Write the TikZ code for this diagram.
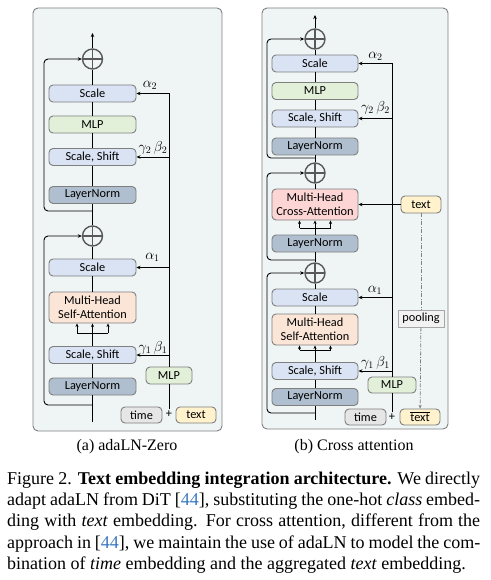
\documentclass[tikz,border=0pt]{standalone}
\usepackage{fontspec}
\setmainfont{Liberation Serif}
\newfontfamily\boxfont{Carlito}
\usetikzlibrary{arrows.meta}
\definecolor{panelfill}{HTML}{EFF4F4}
\definecolor{panelline}{HTML}{7F7F7F}
\definecolor{boxline}{HTML}{7F7F7F}
\definecolor{cblue}{HTML}{DAE3F3}
\definecolor{cgreen}{HTML}{E2F0D9}
\definecolor{cln}{HTML}{B0BFCF}
\definecolor{cpeach}{HTML}{FBE5D6}
\definecolor{cpink}{HTML}{FDD5D5}
\definecolor{cgray}{HTML}{E7E6E6}
\definecolor{cyellow}{HTML}{FFF2CC}
\definecolor{cpool}{HTML}{F2F2F2}
\definecolor{poolline}{HTML}{A6A6A6}
\definecolor{ringgray}{HTML}{595959}
\definecolor{citeblue}{HTML}{3A78C0}
\begin{document}
\begin{tikzpicture}[x=1pt,y=-1pt,
  panel/.style={draw=panelline, fill=panelfill, line width=0.9pt, rounded corners=5pt},
  blk/.style={draw=boxline, line width=0.9pt, rounded corners=4pt, minimum width=87pt,
    minimum height=17pt, inner sep=0pt, align=center,
    font=\boxfont\fontsize{12.3}{13.5}\selectfont},
  blktwo/.style={blk, minimum height=31pt},
  sblk/.style={blk, minimum width=40pt, minimum height=16pt},
  poolbox/.style={draw=poolline, line width=0.9pt, fill=cpool, minimum width=46pt,
    minimum height=17pt, inner sep=0pt, font=\boxfont\fontsize{12.3}{13.5}\selectfont},
  oplus/.style={circle, draw=ringgray, line width=1.4pt, minimum size=20pt, inner sep=0pt,
    path picture={\draw[ringgray, line width=1.2pt]
      (path picture bounding box.north) -- (path picture bounding box.south)
      (path picture bounding box.west) -- (path picture bounding box.east);}},
  plusnode/.style={inner sep=1pt, font=\boxfont\fontsize{12.3}{13.5}\selectfont},
  ln/.style={line width=0.9pt, black},
  arr/.style={ln, -{Stealth[length=4pt,width=3.5pt]}},
  sarr/.style={ln, -{Stealth[length=3.5pt,width=3pt]}},
  dd/.style={line width=0.8pt, gray, dash pattern=on 4pt off 1.5pt on 1pt off 1.5pt},
  lab/.style={inner sep=0pt, font=\fontsize{14.5}{15}\selectfont},
  subcap/.style={inner sep=0pt, anchor=base, font=\fontsize{16}{19}\selectfont},
  capline/.style={inner sep=0pt, anchor=base west, font=\fontsize{18}{21}\selectfont}
]
\useasboundingbox (0,0) rectangle (490,580);

% panels
\draw[panel] (33,8) rectangle (222,431);
\draw[panel] (262,8) rectangle (448,429);

% ---------------- left: adaLN-Zero ----------------
\node[oplus] (Lp2) at (92.5,59) {};
\node[blk, fill=cblue] (Lsc2) at (92.5,93.5) {Scale};
\node[blk, fill=cgreen] (Lmlp2) at (92.5,124.5) {MLP};
\node[blk, fill=cblue] (Lss2) at (92.5,157) {Scale, Shift};
\node[blk, fill=cln] (Lln2) at (92.5,195) {LayerNorm};
\node[oplus] (Lp1) at (92.5,236) {};
\node[blk, fill=cblue] (Lsc1) at (92.5,267.5) {Scale};
\node[blktwo, fill=cpeach] (Lsa) at (92.5,307.5) {Multi-Head\\Self-Attention};
\node[blk, fill=cblue] (Lss1) at (92.5,355) {Scale, Shift};
\node[blk, fill=cln] (Lln1) at (92.5,386.5) {LayerNorm};
\node[sblk, fill=cgreen, minimum width=46pt, minimum height=17pt] (Lmlp) at (169,375.5) {MLP};
\node[sblk, fill=cgray, minimum width=41pt] (Ltime) at (141.5,415) {time};
\node[plusnode] (Lplus) at (169,414) {+};
\node[sblk, fill=cyellow] (Ltext) at (196,415) {text};

\coordinate (Ltop) at (92.5,33);
\coordinate (Lbot) at (92.5,422);
\coordinate (Lk2) at (92.5,211);
\coordinate (Lk1) at (92.5,405);
\coordinate (Lbr) at (92.5,333);
\coordinate (Lbl) at (77,333);
\coordinate (Lbrr) at (108,333);

\draw[ln] (Lbot) -- (Lln1);
\draw[ln] (Lln1) -- (Lss1);
\draw[ln] (Lss1) -- (Lbr);
\draw[sarr] (Lbr) -- (Lsa);
\draw[ln] (Lbl) -- (Lbrr);
\draw[sarr] (Lbl) -- (Lbl |- Lsa.south);
\draw[sarr] (Lbrr) -- (Lbrr |- Lsa.south);
\draw[ln] (Lsa) -- (Lsc1);
\draw[ln] (Lsc1) -- (Lp1);
\draw[ln] (Lp1) -- (Lln2);
\draw[ln] (Lln2) -- (Lss2);
\draw[ln] (Lss2) -- (Lmlp2);
\draw[ln] (Lmlp2) -- (Lsc2);
\draw[ln] (Lsc2) -- (Lp2);
\draw[arr] (Lp2) -- (Ltop);
\draw[arr, rounded corners=4pt] (Lk2) -- ++(-48.5,0) |- (Lp2.west);
\draw[arr, rounded corners=4pt] (Lk1) -- ++(-48.5,0) |- (Lp1.west);

\draw[arr] (Lmlp.north) -- (Lmlp.north |- Lsc2.east) -- (Lsc2.east);
\draw[arr] (Lmlp.north |- Lss2.east) -- (Lss2.east);
\draw[arr] (Lmlp.north |- Lsc1.east) -- (Lsc1.east);
\draw[arr] (Lmlp.north |- Lss1.east) -- (Lss1.east);
\draw[ln] (Lplus) -- (Lmlp);

\node[lab] (La2) at (150,85.5) {$\alpha_2$};
\node[lab] (Lgb2) at (153,148) {$\gamma_2\,\beta_2$};
\node[lab] (La1) at (152.5,257) {$\alpha_1$};
\node[lab] (Lgb1) at (153,348) {$\gamma_1\,\beta_1$};

% ---------------- right: cross attention ----------------
\node[oplus] (Rp1) at (315,39) {};
\node[blk, fill=cblue, minimum width=86pt] (Rsc2) at (315,63.5) {Scale};
\node[blk, fill=cgreen, minimum width=86pt] (Rmlp2) at (315,91) {MLP};
\node[blk, fill=cblue, minimum width=86pt] (Rss2) at (315,118.5) {Scale, Shift};
\node[blk, fill=cln, minimum width=86pt] (Rln3) at (315,146.5) {LayerNorm};
\node[oplus] (Rp2) at (315,173) {};
\node[blktwo, fill=cpink, minimum width=86pt] (Rca) at (315,204.5) {Multi-Head\\Cross-Attention};
\node[blk, fill=cln, minimum width=86pt] (Rln2) at (315,243.5) {LayerNorm};
\node[oplus] (Rp3) at (315,273) {};
\node[blk, fill=cblue, minimum width=86pt] (Rsc1) at (315,297.5) {Scale};
\node[blktwo, fill=cpeach, minimum width=86pt] (Rsa) at (315,329.5) {Multi-Head\\Self-Attention};
\node[blk, fill=cblue, minimum width=86pt] (Rss1) at (315,371) {Scale, Shift};
\node[blk, fill=cln, minimum width=86pt] (Rln1) at (315,397) {LayerNorm};

\node[sblk, fill=cyellow, minimum height=17pt] (Rtext) at (421,204.5) {text};
\node[poolbox] (Rpool) at (421,318.5) {pooling};
\node[sblk, fill=cgreen, minimum width=48pt] (Rmlp) at (392,385) {MLP};
\node[sblk, fill=cgray, minimum width=41pt] (Rtime) at (365.5,417) {time};
\node[plusnode] (Rplus) at (392,417) {+};
\node[sblk, fill=cyellow] (Rtbar) at (420,417) {$\overline{\hbox{text}}$};

\coordinate (Rtop) at (315,15);
\coordinate (Rbot) at (315,420);
\coordinate (Rk1) at (315,158);
\coordinate (Rk2) at (315,260);
\coordinate (Rk3) at (315,413);
\coordinate (Rbr2) at (315,228);
\coordinate (Rbr2l) at (299.5,228);
\coordinate (Rbr2r) at (330.5,228);
\coordinate (Rbr1) at (315,350);
\coordinate (Rbr1l) at (299.5,350);
\coordinate (Rbr1r) at (330.5,350);

\draw[ln] (Rbot) -- (Rln1);
\draw[ln] (Rln1) -- (Rss1);
\draw[ln] (Rss1) -- (Rbr1);
\draw[sarr] (Rbr1) -- (Rsa);
\draw[ln] (Rbr1l) -- (Rbr1r);
\draw[sarr] (Rbr1l) -- (Rbr1l |- Rsa.south);
\draw[sarr] (Rbr1r) -- (Rbr1r |- Rsa.south);
\draw[ln] (Rsa) -- (Rsc1);
\draw[ln] (Rsc1) -- (Rp3);
\draw[ln] (Rp3) -- (Rln2);
\draw[ln] (Rln2) -- (Rbr2);
\draw[sarr] (Rbr2) -- (Rca);
\draw[ln] (Rbr2l) -- (Rbr2r);
\draw[sarr] (Rbr2l) -- (Rbr2l |- Rca.south);
\draw[sarr] (Rbr2r) -- (Rbr2r |- Rca.south);
\draw[ln] (Rca) -- (Rp2);
\draw[ln] (Rp2) -- (Rln3);
\draw[ln] (Rln3) -- (Rss2);
\draw[ln] (Rss2) -- (Rmlp2);
\draw[ln] (Rmlp2) -- (Rsc2);
\draw[ln] (Rsc2) -- (Rp1);
\draw[arr] (Rp1) -- (Rtop);
\draw[arr, rounded corners=4pt] (Rk1) -- ++(-48,0) |- (Rp1.west);
\draw[arr, rounded corners=4pt] (Rk2) -- ++(-48,0) |- (Rp2.west);
\draw[arr, rounded corners=4pt] (Rk3) -- ++(-48,0) |- (Rp3.west);

\draw[arr] (Rmlp.north) -- (Rmlp.north |- Rsc2.east) -- (Rsc2.east);
\draw[arr] (Rmlp.north |- Rss2.east) -- (Rss2.east);
\draw[arr] (Rmlp.north |- Rsc1.east) -- (Rsc1.east);
\draw[arr] (Rmlp.north |- Rss1.east) -- (Rss1.east);
\draw[ln] (Rplus) -- (Rmlp);
\draw[arr] (Rtext) -- (Rca);
\draw[dd] (Rtext) -- (Rpool);
\draw[dd, -{Stealth[length=3.5pt,width=3pt]}] (Rpool) -- (Rtbar);

\node[lab] (Ra2) at (375.5,56.5) {$\alpha_2$};
\node[lab] (Rgb2) at (375.5,108) {$\gamma_2\,\beta_2$};
\node[lab] (Ra1) at (375,290) {$\alpha_1$};
\node[lab] (Rgb1) at (375.5,362.5) {$\gamma_1\,\beta_1$};

% ---------------- captions ----------------
\node[subcap] (sa) at (127,450) {(a) adaLN-Zero};
\node[subcap] (sb) at (354,450) {(b) Cross attention};

\node[capline] (c1) at (7,484) {\makebox[473pt][s]{Figure 2. \textbf{Text embedding integration architecture.} We directly}};
\node[capline] (c2) at (7,505.5) {\makebox[473pt][s]{adapt adaLN from DiT [\textcolor{citeblue}{44}], substituting the one-hot \textit{class} embed-}};
\node[capline] (c3) at (7,526.7) {\makebox[473pt][s]{ding with \textit{text} embedding. For cross attention, different from the}};
\node[capline] (c4) at (7,548) {\makebox[473pt][s]{approach in [\textcolor{citeblue}{44}], we maintain the use of adaLN to model the com-}};
\node[capline] (c5) at (7,569) {bination of \textit{time} embedding and the aggregated \textit{text} embedding.};
\end{tikzpicture}
\end{document}
